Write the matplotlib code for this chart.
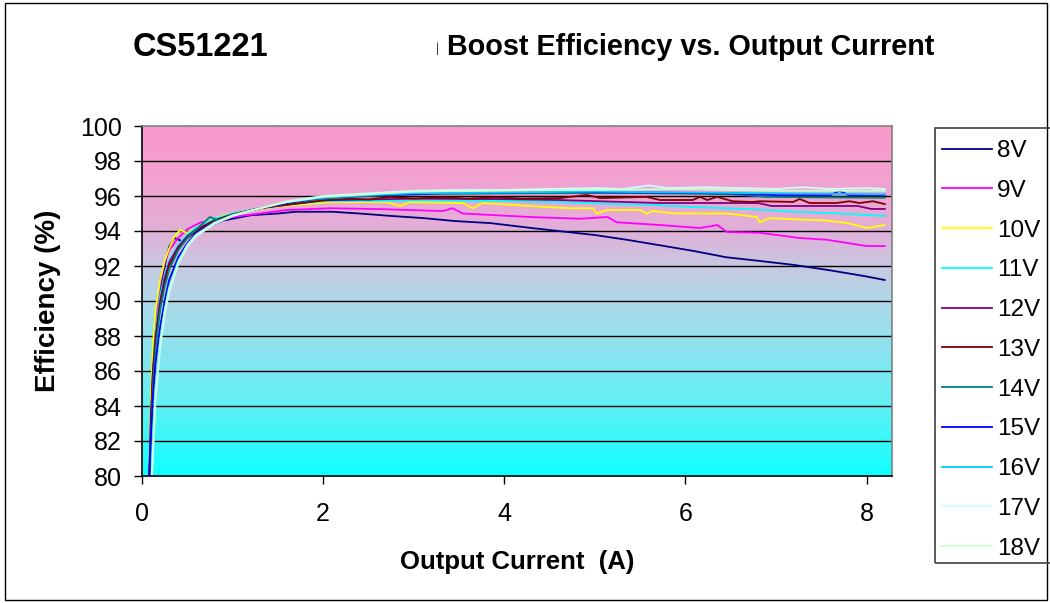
import numpy as np
import matplotlib
matplotlib.use("Agg")
import matplotlib.pyplot as plt
from matplotlib.colors import LinearSegmentedColormap
from matplotlib.patches import Rectangle

plt.rcParams['font.family'] = ['Liberation Sans', 'DejaVu Sans']

# ---- data (output current A, efficiency %) ----
labels = ["8V", "9V", "10V", "11V", "12V", "13V", "14V", "15V", "16V", "17V", "18V"]
colours = ["#000080", "#FF00FF", "#FFFF00", "#00FFFF", "#800080", "#800000",
           "#008080", "#0000FF", "#00CCFF", "#CCFFFF", "#CCFFCC"]

x_8v = [0.08, 0.1, 0.12, 0.15, 0.2, 0.25, 0.3, 0.36, 0.45, 0.55, 0.7, 0.9, 1.2, 1.5, 1.7,
        2.1, 2.4, 2.75, 3.1, 3.45, 3.85, 4.3, 4.65, 5.0, 5.35, 5.7, 6.1, 6.45, 6.8, 7.2, 7.6, 8.0, 8.2]
eff_8v = [79.5, 84.0, 86.5, 88.6, 90.6, 92.0, 93.1, 93.6, 93.4, 93.8, 94.2, 94.6, 94.9, 95.0, 95.1,
          95.1, 95.0, 94.86, 94.74, 94.57, 94.45, 94.17, 93.97, 93.77, 93.5, 93.2, 92.85, 92.5, 92.3, 92.06, 91.75, 91.4, 91.2]

x_9v = [0.08, 0.1, 0.12, 0.15, 0.2, 0.25, 0.3, 0.4, 0.5, 0.65, 0.8, 1.0, 1.3, 1.6, 2.08, 2.63, 3.32,
        3.43, 3.54, 4.28, 4.83, 5.14, 5.24, 5.72, 6.16, 6.35, 6.46, 6.82, 7.26, 7.56, 8.0, 8.2]
eff_9v = [80.0, 84.5, 87.0, 89.0, 91.0, 92.2, 92.9, 93.6, 94.1, 94.5, 94.6, 94.8, 95.0, 95.2, 95.3, 95.25, 95.14,
          95.3, 95.0, 94.8, 94.7, 94.8, 94.5, 94.34, 94.17, 94.34, 93.94, 93.9, 93.6, 93.5, 93.14, 93.14]

x_10v = [0.08, 0.1, 0.12, 0.15, 0.2, 0.25, 0.3, 0.36, 0.42, 0.5, 0.6, 0.7, 0.9, 1.2, 1.5, 2.08, 2.7,
         2.85, 2.96, 3.54, 3.65, 3.76, 4.28, 4.72, 4.98, 5.02, 5.13, 5.5, 5.57, 5.64, 5.9, 6.46, 6.79,
         6.82, 6.93, 7.19, 7.56, 7.81, 8.0, 8.2]
eff_10v = [80.0, 85.0, 87.5, 89.5, 91.2, 92.3, 93.0, 93.7, 94.05, 93.9, 94.2, 94.5, 94.9, 95.2, 95.4, 95.65, 95.65,
           95.43, 95.65, 95.6, 95.3, 95.6, 95.43, 95.3, 95.3, 95.0, 95.2, 95.2, 95.0, 95.14, 95.0, 95.0, 94.8,
           94.5, 94.74, 94.67, 94.6, 94.43, 94.17, 94.34]

x_11v = [0.08, 0.1, 0.12, 0.15, 0.2, 0.25, 0.3, 0.4, 0.5, 0.6, 0.8, 1.0, 1.3, 1.6, 2.0, 2.6, 3.0,
         3.5, 4.0, 4.6, 5.2, 5.6, 6.1, 6.7, 7.2, 7.7, 8.2]
eff_11v = [79.5, 83.0, 86.0, 88.3, 90.3, 91.5, 92.3, 93.2, 93.8, 94.2, 94.7, 95.0, 95.3, 95.5, 95.7, 95.72, 95.75,
           95.73, 95.72, 95.65, 95.54, 95.5, 95.37, 95.25, 95.1, 95.0, 94.86]

x_12v = [0.08, 0.1, 0.12, 0.15, 0.2, 0.25, 0.3, 0.4, 0.5, 0.6, 0.8, 1.0, 1.3, 1.6, 2.0, 2.5, 3.0,
         4.0, 4.6, 5.7, 6.8, 6.95, 7.5, 7.9, 8.05, 8.2]
eff_12v = [79.5, 83.5, 86.0, 88.0, 90.0, 91.3, 92.2, 93.1, 93.7, 94.1, 94.6, 94.95, 95.3, 95.5, 95.75, 95.8, 95.85,
           95.82, 95.77, 95.6, 95.6, 95.43, 95.43, 95.43, 95.26, 95.26]

x_13v = [0.08, 0.1, 0.12, 0.15, 0.2, 0.25, 0.3, 0.4, 0.5, 0.6, 0.8, 1.0, 1.3, 1.6, 2.0, 2.3, 2.5,
         2.75, 3.0, 3.3, 3.6, 3.9, 4.2, 4.61, 4.91, 5.06, 5.57, 5.72, 6.08, 6.16, 6.24, 6.35, 6.52,
         6.74, 6.82, 7.19, 7.26, 7.37, 7.67, 7.81, 7.92, 8.07, 8.2]
eff_13v = [80.0, 83.5, 85.8, 87.8, 89.8, 91.1, 92.0, 93.0, 93.6, 94.0, 94.6, 94.95, 95.3, 95.5, 95.75, 95.85, 95.8,
           95.95, 95.85, 95.93, 95.85, 95.93, 95.85, 95.88, 96.06, 95.88, 95.95, 95.77, 95.77, 95.95, 95.77, 95.95, 95.7,
           95.66, 95.7, 95.66, 95.83, 95.6, 95.6, 95.7, 95.6, 95.7, 95.54]

x_14v = [0.08, 0.1, 0.12, 0.15, 0.2, 0.25, 0.3, 0.4, 0.5, 0.6, 0.75, 0.85, 1.0, 1.3, 1.6, 2.0, 2.5,
         3.0, 4.0, 5.0, 5.5, 6.5, 6.9, 7.5, 8.2]
eff_14v = [79.0, 82.5, 85.0, 87.3, 89.5, 90.8, 91.8, 92.9, 93.6, 94.1, 94.8, 94.6, 94.95, 95.3, 95.6, 95.85, 96.0,
           96.1, 96.15, 96.17, 96.17, 96.1, 95.95, 95.92, 95.9]

x_15v = [0.08, 0.1, 0.12, 0.15, 0.2, 0.25, 0.3, 0.4, 0.5, 0.6, 0.8, 1.0, 1.3, 1.6, 2.0, 2.5, 3.0,
         3.5, 4.0, 4.6, 5.5, 6.5, 7.0, 7.6, 7.7, 7.8, 8.2]
eff_15v = [80.0, 82.5, 84.5, 86.5, 88.5, 90.0, 91.2, 92.5, 93.3, 93.9, 94.5, 94.9, 95.3, 95.6, 95.9, 96.05, 96.1,
           96.2, 96.2, 96.23, 96.2, 96.15, 96.05, 96.05, 96.3, 96.05, 96.06]

x_16v = [0.1, 0.12, 0.15, 0.2, 0.25, 0.3, 0.4, 0.5, 0.6, 0.8, 1.0, 1.3, 1.6, 2.0, 2.5, 3.0, 4.0,
         5.0, 6.0, 7.0, 8.2]
eff_16v = [79.0, 82.0, 85.0, 87.8, 89.5, 90.8, 92.3, 93.2, 93.8, 94.5, 94.9, 95.3, 95.65, 95.9, 96.05, 96.15, 96.2,
           96.25, 96.2, 96.15, 96.1]

x_17v = [0.1, 0.12, 0.15, 0.2, 0.25, 0.3, 0.4, 0.5, 0.6, 0.8, 1.0, 1.3, 1.6, 2.0, 2.5, 3.0, 3.5,
         4.0, 4.5, 5.0, 5.3, 5.6, 5.8, 6.2, 6.6, 7.0, 7.3, 7.6, 8.0, 8.2]
eff_17v = [78.5, 81.0, 84.3, 87.3, 89.2, 90.5, 92.1, 93.1, 93.7, 94.4, 94.85, 95.3, 95.7, 96.0, 96.15, 96.3, 96.35,
           96.35, 96.4, 96.45, 96.4, 96.6, 96.45, 96.5, 96.45, 96.4, 96.5, 96.4, 96.45, 96.4]

x_18v = [0.1, 0.12, 0.15, 0.2, 0.25, 0.3, 0.4, 0.5, 0.6, 0.8, 1.0, 1.3, 1.6, 2.0, 3.0, 4.0, 5.0,
         6.0, 7.0, 8.2]
eff_18v = [79.0, 81.5, 84.8, 87.6, 89.4, 90.7, 92.2, 93.2, 93.8, 94.45, 94.9, 95.3, 95.65, 95.95, 96.25, 96.3, 96.35,
           96.4, 96.3, 96.3]

all_x = [x_8v, x_9v, x_10v, x_11v, x_12v, x_13v, x_14v, x_15v, x_16v, x_17v, x_18v]
all_eff = [eff_8v, eff_9v, eff_10v, eff_11v, eff_12v, eff_13v, eff_14v, eff_15v, eff_16v, eff_17v, eff_18v]

W, H = 1050, 603
fig = plt.figure(figsize=(W / 100, H / 100), dpi=100)
fig.patch.set_facecolor("white")

# plot area in pixels: left 142, right 892, top 126, bottom 476
ax = fig.add_axes([142 / W, 1 - 476 / H, 750 / W, 350 / H])

xmax = 8.28
# background gradient, pink at the top to cyan at the bottom
grad_cmap = LinearSegmentedColormap.from_list(
    "bg", [(0.0, "#10FFFF"), (0.2, "#60F0F5"), (0.5, "#B0D8E8"),
           (0.6, "#C8C8E0"), (0.7, "#E0B0D8"), (0.85, "#F2A2D0"), (1.0, "#FA98CA")])
ax.imshow(np.linspace(0, 1, 256).reshape(-1, 1), extent=[0, xmax, 80, 100], origin="lower",
          aspect="auto", cmap=grad_cmap, zorder=0, interpolation="bilinear")

for yv in range(82, 100, 2):
    ax.axhline(yv, color="black", lw=1.0, zorder=1)

handles = []
for xs, ys, c, lab in zip(all_x, all_eff, colours, labels):
    h, = ax.plot(xs, ys, color=c, lw=1.3, label=lab, zorder=2)
    handles.append(h)

ax.set_xlim(0, xmax)
ax.set_ylim(80, 100)
ax.set_xticks([0, 2, 4, 6, 8])
ax.set_yticks(range(80, 101, 2))
ax.tick_params(axis="both", direction="out", length=6, width=1, color="black", labelsize=18)
ax.tick_params(axis="y", pad=8.5)
ax.tick_params(axis="x", pad=13)
for s in ["top", "right"]:
    ax.spines[s].set_color("#808080")
    ax.spines[s].set_linewidth(1.2)
for s in ["left", "bottom"]:
    ax.spines[s].set_color("black")
    ax.spines[s].set_linewidth(1.2)

ax.set_xlabel("Output Current  (A)", fontsize=18.5, fontweight="bold", labelpad=17)
ax.set_ylabel("Efficiency (%)", fontsize=20, fontweight="bold", labelpad=14)

# title, partly masked in the original
ty = 1 - 47 / H
fig.text(133 / W, ty, "CS51221", fontsize=23.5, fontweight="bold", ha="left", va="center")
fig.text(447 / W, ty, "Boost Efficiency vs. Output Current", fontsize=20.7,
         fontweight="bold", ha="left", va="center")
fig.text(440 / W, ty, "n", fontsize=20.7, fontweight="bold", ha="right", va="center", zorder=3)
fig.patches.append(Rectangle((300 / W, 1 - 75 / H), 137 / W, 50 / H, transform=fig.transFigure,
                             facecolor="white", edgecolor="none", zorder=4))

leg = fig.legend(handles=handles, loc="upper left", bbox_to_anchor=(930 / W, 1 - 128 / H),
                 fontsize=17.5, frameon=False, handlelength=2.05,
                 handletextpad=0.2, labelspacing=0.73, borderpad=0.5, borderaxespad=0)
for lh in leg.get_lines():
    lh.set_linewidth(1.3)
# legend frame
fig.patches.append(Rectangle((935 / W, 1 - 563 / H), 120 / W, 435 / H, transform=fig.transFigure,
                             facecolor="none", edgecolor="#404040", lw=1.2, zorder=1))

# outer chart border
fig.patches.append(Rectangle((5 / W, 3 / H), 1042 / W, 597 / H, transform=fig.transFigure,
                             facecolor="none", edgecolor="black", lw=1.0, zorder=0))

fig.savefig("out.png", dpi=100)
